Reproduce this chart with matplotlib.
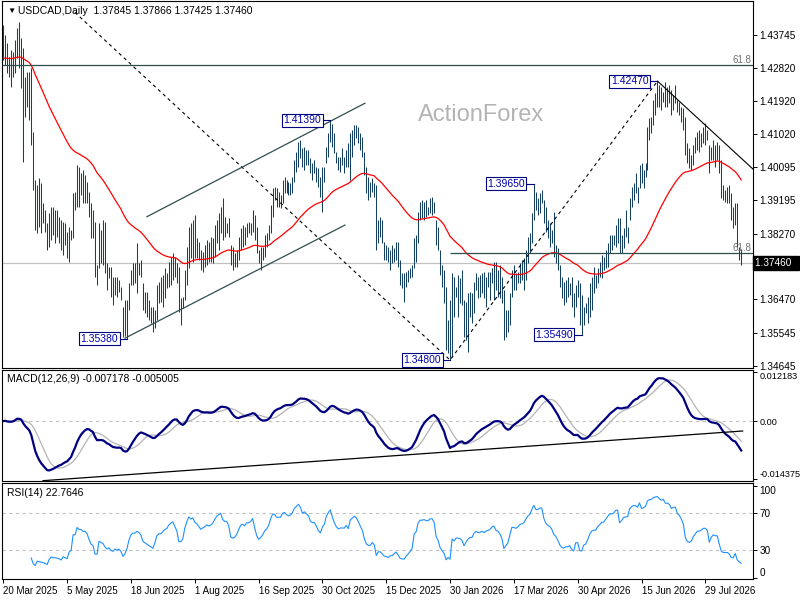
import numpy as np
import pandas as pd
import matplotlib
matplotlib.use("Agg")
import matplotlib.pyplot as plt

plt.rcParams['font.family'] = ['Liberation Sans', 'DejaVu Sans']

header = "USDCAD,Daily  1.37845 1.37866 1.37425 1.37460"
last_close = 1.37460

# daily bars (high / low / close)
highs = [
    1.4401, 1.4374, 1.4352, 1.4313, 1.4333, 1.4327, 1.4360, 1.4393, 1.4410, 1.4366,
    1.4338, 1.4258, 1.4272, 1.4272, 1.4283, 1.4107, 1.3975, 1.3961, 1.3981, 1.3967,
    1.3912, 1.3893, 1.3857, 1.3884, 1.3901, 1.3901, 1.3893, 1.3893, 1.3873, 1.3865,
    1.3860, 1.3857, 1.3832, 1.3846, 1.3838, 1.3939, 1.3942, 1.4016, 1.4011, 1.3994,
    1.4003, 1.3989, 1.3970, 1.3942, 1.3912, 1.3893, 1.3860, 1.3741, 1.3857, 1.3838,
    1.3865, 1.3860, 1.3747, 1.3736, 1.3736, 1.3708, 1.3708, 1.3708, 1.3700, 1.3681,
    1.3626, 1.3645, 1.3645, 1.3692, 1.3728, 1.3747, 1.3747, 1.3802, 1.3747, 1.3755,
    1.3692, 1.3667, 1.3667, 1.3645, 1.3626, 1.3626, 1.3618, 1.3686, 1.3695, 1.3708,
    1.3714, 1.3733, 1.3719, 1.3750, 1.3763, 1.3774, 1.3763, 1.3747, 1.3736, 1.3650,
    1.3653, 1.3728, 1.3791, 1.3846, 1.3857, 1.3865, 1.3879, 1.3816, 1.3805, 1.3783,
    1.3777, 1.3796, 1.3810, 1.3805, 1.3818, 1.3816, 1.3851, 1.3865, 1.3884, 1.3901,
    1.3925, 1.3873, 1.3857, 1.3871, 1.3796, 1.3791, 1.3774, 1.3783, 1.3818, 1.3843,
    1.3851, 1.3846, 1.3857, 1.3860, 1.3857, 1.3893, 1.3879, 1.3846, 1.3783, 1.3791,
    1.3791, 1.3824, 1.3829, 1.3851, 1.3906, 1.3953, 1.3956, 1.3953, 1.3942, 1.3934,
    1.3975, 1.3983, 1.3975, 1.3970, 1.3967, 1.3983, 1.4030, 1.4052, 1.4080, 1.4085,
    1.4063, 1.4066, 1.4058, 1.4058, 1.4036, 1.4022, 1.4030, 1.4011, 1.4008, 1.3983,
    1.4011, 1.4011, 1.4066, 1.4104, 1.4139, 1.4130, 1.4104, 1.4052, 1.4038, 1.4038,
    1.4063, 1.4038, 1.4058, 1.4077, 1.4104, 1.4113, 1.4126, 1.4126, 1.4121, 1.4104,
    1.4093, 1.4052, 1.4011, 1.3983, 1.3970, 1.3981, 1.3967, 1.3961, 1.3865, 1.3873,
    1.3865, 1.3805, 1.3796, 1.3791, 1.3783, 1.3796, 1.3788, 1.3805, 1.3805, 1.3755,
    1.3719, 1.3719, 1.3722, 1.3728, 1.3733, 1.3741, 1.3816, 1.3824, 1.3887, 1.3915,
    1.3920, 1.3915, 1.3920, 1.3901, 1.3925, 1.3928, 1.3915, 1.3865, 1.3846, 1.3783,
    1.3741, 1.3728, 1.3681, 1.3590, 1.3645, 1.3719, 1.3708, 1.3681, 1.3714, 1.3706,
    1.3728, 1.3645, 1.3640, 1.3664, 1.3667, 1.3664, 1.3695, 1.3719, 1.3708, 1.3714,
    1.3719, 1.3722, 1.3708, 1.3722, 1.3722, 1.3733, 1.3750, 1.3750, 1.3728, 1.3741,
    1.3708, 1.3673, 1.3618, 1.3618, 1.3664, 1.3728, 1.3741, 1.3719, 1.3722, 1.3747,
    1.3755, 1.3761, 1.3783, 1.3818, 1.3829, 1.3884, 1.3965, 1.3942, 1.3925, 1.3939,
    1.3948, 1.3920, 1.3901, 1.3865, 1.3857, 1.3838, 1.3887, 1.3796, 1.3788, 1.3741,
    1.3708, 1.3695, 1.3700, 1.3708, 1.3692, 1.3708, 1.3664, 1.3686, 1.3700, 1.3692,
    1.3659, 1.3626, 1.3637, 1.3653, 1.3692, 1.3708, 1.3736, 1.3714, 1.3733, 1.3750,
    1.3769, 1.3763, 1.3783, 1.3802, 1.3824, 1.3824, 1.3824, 1.3851, 1.3871, 1.3871,
    1.3824, 1.3843, 1.3893, 1.3846, 1.3925, 1.3956, 1.3967, 1.3994, 1.3956, 1.4016,
    1.4022, 1.4003, 1.4022, 1.4121, 1.4146, 1.4148, 1.4195, 1.4214, 1.4247, 1.4236,
    1.4231, 1.4217, 1.4245, 1.4231, 1.4236, 1.4223, 1.4209, 1.4236, 1.4195, 1.4190,
    1.4176, 1.4173, 1.4148, 1.4077, 1.4063, 1.4044, 1.4071, 1.4093, 1.4107, 1.4113,
    1.4104, 1.4121, 1.4132, 1.4113, 1.4071, 1.4066, 1.4085, 1.4071, 1.4080, 1.4071,
    1.4030, 1.3961, 1.3948, 1.3956, 1.3961, 1.3939, 1.3901, 1.3912, 1.3912, 1.3791, 1.37866,
]
lows = [
    1.4305, 1.4291, 1.4269, 1.4258, 1.4231, 1.4258, 1.4269, 1.4310, 1.4283, 1.4228,
    1.4025, 1.4148, 1.4176, 1.4140, 1.4071, 1.3948, 1.3838, 1.3829, 1.3846, 1.3829,
    1.3857, 1.3832, 1.3783, 1.3791, 1.3810, 1.3824, 1.3802, 1.3818, 1.3802, 1.3783,
    1.3769, 1.3796, 1.3761, 1.3750, 1.3810, 1.3815, 1.3893, 1.3901, 1.3901, 1.3934,
    1.3912, 1.3912, 1.3912, 1.3873, 1.3816, 1.3816, 1.3708, 1.3686, 1.3733, 1.3747,
    1.3741, 1.3719, 1.3673, 1.3706, 1.3653, 1.3631, 1.3659, 1.3653, 1.3667, 1.3645,
    1.3543, 1.3546, 1.3538, 1.3618, 1.3686, 1.3686, 1.3692, 1.3664, 1.3714, 1.3708,
    1.3618, 1.3609, 1.3598, 1.3590, 1.3582, 1.3557, 1.3568, 1.3590, 1.3637, 1.3640,
    1.3626, 1.3651, 1.3678, 1.3681, 1.3686, 1.3700, 1.3708, 1.3692, 1.3612, 1.3576,
    1.3623, 1.3645, 1.3686, 1.3733, 1.3761, 1.3750, 1.3761, 1.3761, 1.3755, 1.3728,
    1.3722, 1.3736, 1.3741, 1.3750, 1.3750, 1.3747, 1.3763, 1.3802, 1.3783, 1.3829,
    1.3810, 1.3818, 1.3829, 1.3818, 1.3741, 1.3728, 1.3736, 1.3736, 1.3755, 1.3783,
    1.3791, 1.3796, 1.3818, 1.3829, 1.3824, 1.3832, 1.3810, 1.3774, 1.3747, 1.3728,
    1.3755, 1.3763, 1.3791, 1.3810, 1.3829, 1.3873, 1.3920, 1.3901, 1.3901, 1.3898,
    1.3912, 1.3939, 1.3939, 1.3934, 1.3934, 1.3939, 1.3970, 1.3997, 1.4011, 1.4036,
    1.4011, 1.4003, 1.4016, 1.4016, 1.3994, 1.3975, 1.3994, 1.3970, 1.3956, 1.3928,
    1.3887, 1.3970, 1.4022, 1.4038, 1.4080, 1.4066, 1.4049, 1.4022, 1.4003, 1.3997,
    1.4016, 1.3994, 1.4011, 1.4011, 1.3975, 1.4038, 1.4071, 1.4091, 1.4077, 1.4058,
    1.4038, 1.3989, 1.3939, 1.3920, 1.3928, 1.3942, 1.3928, 1.3783, 1.3802, 1.3818,
    1.3802, 1.3755, 1.3755, 1.3750, 1.3728, 1.3747, 1.3750, 1.3755, 1.3736, 1.3686,
    1.3678, 1.3640, 1.3681, 1.3695, 1.3706, 1.3708, 1.3733, 1.3750, 1.3802, 1.3865,
    1.3871, 1.3865, 1.3873, 1.3879, 1.3884, 1.3879, 1.3884, 1.3796, 1.3783, 1.3714,
    1.3681, 1.3637, 1.3508, 1.3499, 1.3480, 1.3488, 1.3598, 1.3653, 1.3598, 1.3637,
    1.3631, 1.3543, 1.3535, 1.3502, 1.3598, 1.3582, 1.3609, 1.3673, 1.3651, 1.3653,
    1.3664, 1.3651, 1.3626, 1.3681, 1.3645, 1.3692, 1.3645, 1.3673, 1.3653, 1.3651,
    1.3637, 1.3535, 1.3543, 1.3557, 1.3576, 1.3653, 1.3673, 1.3673, 1.3692, 1.3692,
    1.3700, 1.3673, 1.3700, 1.3747, 1.3774, 1.3802, 1.3865, 1.3893, 1.3879, 1.3884,
    1.3912, 1.3857, 1.3832, 1.3816, 1.3791, 1.3802, 1.3763, 1.3747, 1.3728, 1.3681,
    1.3651, 1.3631, 1.3640, 1.3653, 1.3659, 1.3626, 1.3598, 1.3626, 1.3653, 1.3576,
    1.3549, 1.3576, 1.3609, 1.3582, 1.3598, 1.3618, 1.3664, 1.3678, 1.3692, 1.3708,
    1.3706, 1.3728, 1.3733, 1.3736, 1.3774, 1.3783, 1.3796, 1.3791, 1.3802, 1.3774,
    1.3774, 1.3788, 1.3818, 1.3802, 1.3865, 1.3901, 1.3920, 1.3939, 1.3912, 1.3953,
    1.3967, 1.3953, 1.3983, 1.4003, 1.4085, 1.4104, 1.4126, 1.4154, 1.4176, 1.4176,
    1.4168, 1.4190, 1.4176, 1.4176, 1.4187, 1.4154, 1.4168, 1.4187, 1.4162, 1.4154,
    1.4135, 1.4113, 1.4044, 1.4022, 1.4008, 1.4003, 1.4016, 1.4049, 1.4058, 1.4052,
    1.4066, 1.4077, 1.4071, 1.4085, 1.3994, 1.4030, 1.4030, 1.4011, 1.4030, 1.3994,
    1.3926, 1.3920, 1.3915, 1.3912, 1.3912, 1.3865, 1.3843, 1.3851, 1.3791, 1.3755, 1.37425,
]
closes = [
    1.4310, 1.4319, 1.4291, 1.4300, 1.4305, 1.4319, 1.4346, 1.4360, 1.4319, 1.4305,
    1.4209, 1.4209, 1.4209, 1.4195, 1.4099, 1.3961, 1.3893, 1.3920, 1.3906, 1.3893,
    1.3879, 1.3851, 1.3824, 1.3851, 1.3865, 1.3851, 1.3851, 1.3843, 1.3832, 1.3810,
    1.3824, 1.3810, 1.3796, 1.3824, 1.3832, 1.3920, 1.3920, 1.3975, 1.3961, 1.3961,
    1.3948, 1.3948, 1.3934, 1.3893, 1.3851, 1.3838, 1.3728, 1.3728, 1.3810, 1.3796,
    1.3783, 1.3741, 1.3714, 1.3722, 1.3686, 1.3673, 1.3686, 1.3673, 1.3678, 1.3651,
    1.3576, 1.3590, 1.3618, 1.3673, 1.3714, 1.3728, 1.3728, 1.3741, 1.3733, 1.3714,
    1.3659, 1.3645, 1.3631, 1.3618, 1.3604, 1.3590, 1.3618, 1.3659, 1.3673, 1.3673,
    1.3686, 1.3700, 1.3706, 1.3728, 1.3741, 1.3750, 1.3728, 1.3706, 1.3631, 1.3631,
    1.3645, 1.3714, 1.3769, 1.3824, 1.3810, 1.3824, 1.3796, 1.3788, 1.3769, 1.3750,
    1.3761, 1.3769, 1.3783, 1.3777, 1.3783, 1.3796, 1.3824, 1.3851, 1.3865, 1.3879,
    1.3851, 1.3843, 1.3843, 1.3824, 1.3761, 1.3750, 1.3755, 1.3769, 1.3796, 1.3824,
    1.3832, 1.3824, 1.3843, 1.3843, 1.3851, 1.3871, 1.3832, 1.3788, 1.3761, 1.3769,
    1.3783, 1.3805, 1.3816, 1.3838, 1.3887, 1.3934, 1.3934, 1.3920, 1.3920, 1.3920,
    1.3953, 1.3961, 1.3953, 1.3948, 1.3956, 1.3975, 1.4016, 1.4036, 1.4063, 1.4052,
    1.4030, 1.4044, 1.4036, 1.4030, 1.4008, 1.4003, 1.4003, 1.3989, 1.3970, 1.3961,
    1.3989, 1.4003, 1.4058, 1.4090, 1.4118, 1.4085, 1.4058, 1.4036, 1.4025, 1.4030,
    1.4030, 1.4030, 1.4044, 1.4030, 1.4085, 1.4099, 1.4113, 1.4107, 1.4091, 1.4071,
    1.4052, 1.4003, 1.3961, 1.3948, 1.3948, 1.3961, 1.3942, 1.3824, 1.3843, 1.3843,
    1.3816, 1.3783, 1.3777, 1.3761, 1.3769, 1.3769, 1.3777, 1.3783, 1.3750, 1.3706,
    1.3700, 1.3695, 1.3706, 1.3714, 1.3722, 1.3733, 1.3796, 1.3810, 1.3871, 1.3893,
    1.3893, 1.3898, 1.3893, 1.3893, 1.3906, 1.3906, 1.3893, 1.3824, 1.3796, 1.3733,
    1.3700, 1.3667, 1.3549, 1.3563, 1.3521, 1.3673, 1.3645, 1.3673, 1.3673, 1.3667,
    1.3645, 1.3576, 1.3604, 1.3631, 1.3645, 1.3645, 1.3678, 1.3695, 1.3686, 1.3686,
    1.3695, 1.3686, 1.3695, 1.3700, 1.3706, 1.3722, 1.3728, 1.3706, 1.3700, 1.3686,
    1.3659, 1.3576, 1.3590, 1.3604, 1.3651, 1.3706, 1.3706, 1.3700, 1.3711, 1.3728,
    1.3733, 1.3741, 1.3769, 1.3796, 1.3810, 1.3865, 1.3926, 1.3906, 1.3906, 1.3926,
    1.3926, 1.3879, 1.3851, 1.3838, 1.3832, 1.3816, 1.3783, 1.3769, 1.3741, 1.3700,
    1.3673, 1.3667, 1.3673, 1.3673, 1.3678, 1.3645, 1.3631, 1.3667, 1.3667, 1.3596,
    1.3590, 1.3618, 1.3623, 1.3645, 1.3673, 1.3695, 1.3700, 1.3700, 1.3722, 1.3733,
    1.3750, 1.3750, 1.3769, 1.3788, 1.3810, 1.3810, 1.3816, 1.3838, 1.3843, 1.3796,
    1.3810, 1.3832, 1.3838, 1.3838, 1.3906, 1.3934, 1.3948, 1.3948, 1.3942, 1.4003,
    1.3981, 1.3989, 1.4008, 1.4099, 1.4126, 1.4134, 1.4181, 1.4200, 1.4209, 1.4200,
    1.4195, 1.4209, 1.4195, 1.4200, 1.4195, 1.4181, 1.4195, 1.4195, 1.4173, 1.4168,
    1.4154, 1.4134, 1.4063, 1.4036, 1.4030, 1.4036, 1.4058, 1.4071, 1.4085, 1.4085,
    1.4091, 1.4099, 1.4099, 1.4091, 1.4030, 1.4052, 1.4063, 1.4058, 1.4058, 1.4008,
    1.3948, 1.3934, 1.3934, 1.3934, 1.3920, 1.3879, 1.3879, 1.3893, 1.3810, 1.3777, 1.37460,
]

date_labels = ['20 Mar 2025', '5 May 2025', '18 Jun 2025', '1 Aug 2025', '16 Sep 2025',
               '30 Oct 2025', '15 Dec 2025', '30 Jan 2026', '17 Mar 2026', '30 Apr 2026',
               '15 Jun 2026', '29 Jul 2026']
bars_per_label = 32

price_ticks = [1.43745, 1.42820, 1.41920, 1.41020, 1.40095, 1.39195, 1.38270,
               1.36470, 1.35545, 1.34645]
macd_ticks = [0.012183, 0.0, -0.014375]
macd_labels = ['0.012183', '0.00', '-0.014375']
rsi_ticks = [100, 70, 30, 0]

# swing high / low labels (bar index, price)
swing_bars = [62, 164, 224, 266, 290, 328]
swing_prices = [1.35380, 1.41390, 1.34800, 1.39650, 1.35490, 1.42470]

# analyst drawings (bar index, price)
fib_upper = 1.4291
fib_lower = 1.3775
fib_lower_start = 224
zigzag_bars = [35.9, 224, 328]
zigzag_prices = [1.4436, 1.3480, 1.4247]
channel_up = ([72, 181.3], [1.3874, 1.4186])
channel_dn = ([61, 171.3], [1.3540, 1.3851])
peak_trend = ([328, 375.9], [1.4247, 1.4005])
macd_trend = ([19.9, 370.7], [-0.01479, -0.00246])

assert len(highs) == len(lows) == len(closes)
n = len(closes)
idx = np.arange(n)

c = pd.Series(closes)
ma55 = c.ewm(span=55, adjust=False).mean()
macd = c.ewm(span=12, adjust=False).mean() - c.ewm(span=26, adjust=False).mean()
signal = macd.rolling(9, min_periods=1).mean()

# Wilder RSI(14), seeded with the first 14 changes
delta = np.diff(closes)
up = np.clip(delta, 0, None)
dn = np.clip(-delta, 0, None)
rsi = np.full(n, np.nan)
ag, al = up[:14].mean(), dn[:14].mean()
rsi[14] = 100 - 100 / (1 + ag / al)
for i in range(15, n):
    ag = (ag * 13 + up[i - 1]) / 14
    al = (al * 13 + dn[i - 1]) / 14
    rsi[i] = 100 - 100 / (1 + ag / al)

W, H = 800, 600
fig = plt.figure(figsize=(8, 6), dpi=100)


def rect(x0, y0, x1, y1):
    return [x0 / W, 1 - y1 / H, (x1 - x0) / W, (y1 - y0) / H]


ax = fig.add_axes(rect(2, 1, 753, 368))
axm = fig.add_axes(rect(2, 370, 753, 481))
axr = fig.add_axes(rect(2, 483, 753, 579))
xlim = (-0.65, 375.9)

for a in (ax, axm, axr):
    a.set_xlim(*xlim)
    for s in a.spines.values():
        s.set_linewidth(0.8)
        s.set_color('black')
    a.yaxis.tick_right()
    a.tick_params(axis='y', direction='out', length=3, width=0.7, labelsize=7.2, pad=1.5)
    a.set_xticks([])

# main price panel
ax.set_ylim(1.3458, 1.446725)
ax.vlines(idx, lows, highs, colors='#15405f', lw=0.75)
ax.plot(idx, ma55, color='#ff0000', lw=0.9)
ax.axhline(fib_upper, color='#2f4f4f', lw=0.9)
ax.hlines(fib_lower, fib_lower_start, xlim[1], color='#2f4f4f', lw=0.9)
ax.axhline(last_close, color='#c0c0c0', lw=0.9, zorder=0)
ax.text(xlim[1] - 1, fib_upper, '61.8', ha='right', va='bottom', fontsize=7, color='#707070')
ax.text(xlim[1] - 1, fib_lower, '61.8', ha='right', va='bottom', fontsize=7, color='#707070')
ax.plot(zigzag_bars, zigzag_prices, color='black', lw=0.8, ls=(0, (3, 3)))
ax.plot(*channel_up, color='#2f4f4f', lw=0.9)
ax.plot(*channel_dn, color='#2f4f4f', lw=0.9)
ax.plot(*peak_trend, color='black', lw=0.8)

for b, p in zip(swing_bars, swing_prices):
    ax.plot([b - 4.5, b], [p, p], color='#000080', lw=0.8, zorder=4)
    ax.text(b - 4.5, p, f"{p:.5f}", ha='right', va='center', fontsize=7.5, color='#0000b0',
            zorder=5, bbox=dict(boxstyle='square,pad=0.15', fc='white', ec='#000080', lw=0.8))

ax.text(0.638, 0.689, 'ActionForex', transform=ax.transAxes, ha='center', va='center',
        fontsize=17, color='#b4b4b4')

ax.set_yticks(price_ticks)
ax.set_yticklabels([f"{v:.5f}" for v in price_ticks])
ax.text(1.003, last_close, f"{last_close:.5f}  ", transform=ax.get_yaxis_transform(),
        ha='left', va='center', fontsize=7.2, color='white', clip_on=False,
        bbox=dict(boxstyle='square,pad=0.2', fc='black', ec='black'))

# MACD panel
axm.set_ylim(-0.01487, 0.01268)
axm.axhline(0, color='#c0c0c0', lw=0.8, ls=(0, (3, 3)))
axm.plot(idx, signal, color='#b4b4b4', lw=0.9)
axm.plot(idx, macd, color='#000080', lw=1.6)
axm.plot(*macd_trend, color='black', lw=0.9)
axm.set_yticks(macd_ticks)
axm.set_yticklabels(macd_labels)
axm.tick_params(axis='y', labelsize=6.6)
labs = axm.get_yticklabels()
labs[0].set_va('top')
labs[2].set_va('bottom')

# RSI panel
axr.set_ylim(-1.6, 103)
for lvl in (70, 30):
    axr.axhline(lvl, color='#c0c0c0', lw=0.8, ls=(0, (3, 3)))
axr.plot(idx, rsi, color='#1e90ff', lw=0.8)
axr.set_yticks(rsi_ticks)
axr.set_yticklabels([str(v) for v in rsi_ticks])
labs = axr.get_yticklabels()
labs[0].set_va('top')
labs[3].set_va('bottom')

axr.set_xticks([i * bars_per_label for i in range(len(date_labels))])
axr.set_xticklabels(date_labels, ha='left')
axr.tick_params(axis='x', direction='out', length=3, width=0.7, labelsize=7, pad=2)

# header texts
fig.text(7 / W, 1 - 11 / H, '\u25bc', fontsize=6, va='center', ha='left')
fig.text(18 / W, 1 - 11 / H, header, fontsize=7.5, va='center', ha='left')
fig.text(7 / W, 1 - 379 / H, "MACD(12,26,9) -0.007178 -0.005005", fontsize=7.5, va='center')
fig.text(7 / W, 1 - 493 / H, "RSI(14) 22.7646", fontsize=7.5, va='center')

fig.savefig("out.png", dpi=100)
